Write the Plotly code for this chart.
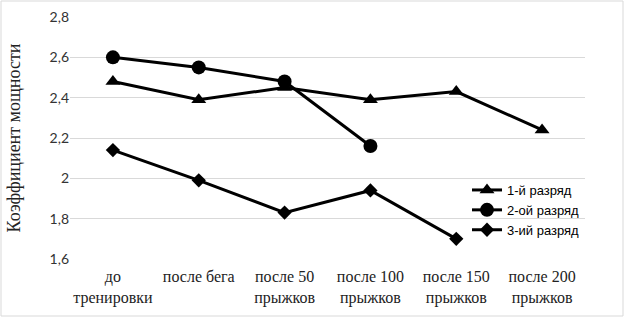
import plotly.graph_objects as go

categories = ["до<br>тренировки", "после бега", "после 50<br>прыжков",
              "после 100<br>прыжков", "после 150<br>прыжков", "после 200<br>прыжков"]
s1_name = "1-й разряд"
s1 = [2.48, 2.39, 2.45, 2.39, 2.43, 2.24]
s2_name = "2-ой разряд"
s2 = [2.60, 2.55, 2.48, 2.16, None, None]
s3_name = "3-ий разряд"
s3 = [2.14, 1.99, 1.83, 1.94, 1.70, None]
y_ticks = [1.6, 1.8, 2.0, 2.2, 2.4, 2.6, 2.8]
y_ticktext = ["1,6", "1,8", "2", "2,2", "2,4", "2,6", "2,8"]
y_title = "Коэффициент мощности"

W, H = 625, 318
L, R, T, B = 70, 40, 17, 59
pw, ph = W - L - R, H - T - B

SERIF = "Liberation Serif"

fig = go.Figure()
fig.add_trace(go.Scatter(x=categories, y=s1, name=s1_name, mode="lines+markers",
                         line=dict(color="black", width=3),
                         marker=dict(symbol="triangle-up", size=13, color="black")))
fig.add_trace(go.Scatter(x=categories, y=s2, name=s2_name, mode="lines+markers",
                         line=dict(color="black", width=3),
                         marker=dict(symbol="circle", size=14, color="black")))
fig.add_trace(go.Scatter(x=categories, y=s3, name=s3_name, mode="lines+markers",
                         line=dict(color="black", width=3),
                         marker=dict(symbol="diamond", size=11, color="black")))

def px_x(p):
    return (p - L) / pw

def px_y(p):
    return (H - B - p) / ph

fig.update_layout(
    width=W, height=H,
    margin=dict(l=L, r=R, t=T, b=B, autoexpand=False),
    paper_bgcolor="white", plot_bgcolor="white",
    showlegend=True,
    legend=dict(x=px_x(467), y=px_y(175), xanchor="left", yanchor="top",
                bgcolor="rgba(0,0,0,0)", font=dict(family="Liberation Sans", size=13, color="black"),
                tracegroupgap=0, itemwidth=30),
    xaxis=dict(showgrid=False, showline=False, ticks="", zeroline=False, automargin=False,
               tickfont=dict(family=SERIF, size=16, color="#222"),
               ticklabelstandoff=6,
               range=[-0.5, 5.5]),
    yaxis=dict(range=[1.6, 2.8], tickvals=y_ticks, ticktext=y_ticktext, automargin=False,
               showgrid=True, gridcolor="#d9d9d9", gridwidth=1, zeroline=False,
               showline=False, ticks="",
               tickfont=dict(family="Lato", size=14, color="#333"),
               title=dict(text=y_title,
                          font=dict(family=SERIF, size=18, color="#222"),
                          standoff=24)),
    shapes=[dict(type="rect", xref="paper", yref="paper",
                 x0=px_x(1), x1=px_x(623), y0=px_y(316), y1=px_y(1),
                 line=dict(color="#d9d9d9", width=1), fillcolor="rgba(0,0,0,0)")],
)

fig.write_html("out.html", config={"displayModeBar": False},
               post_script="document.body.style.margin='0';document.body.style.padding='0';")
